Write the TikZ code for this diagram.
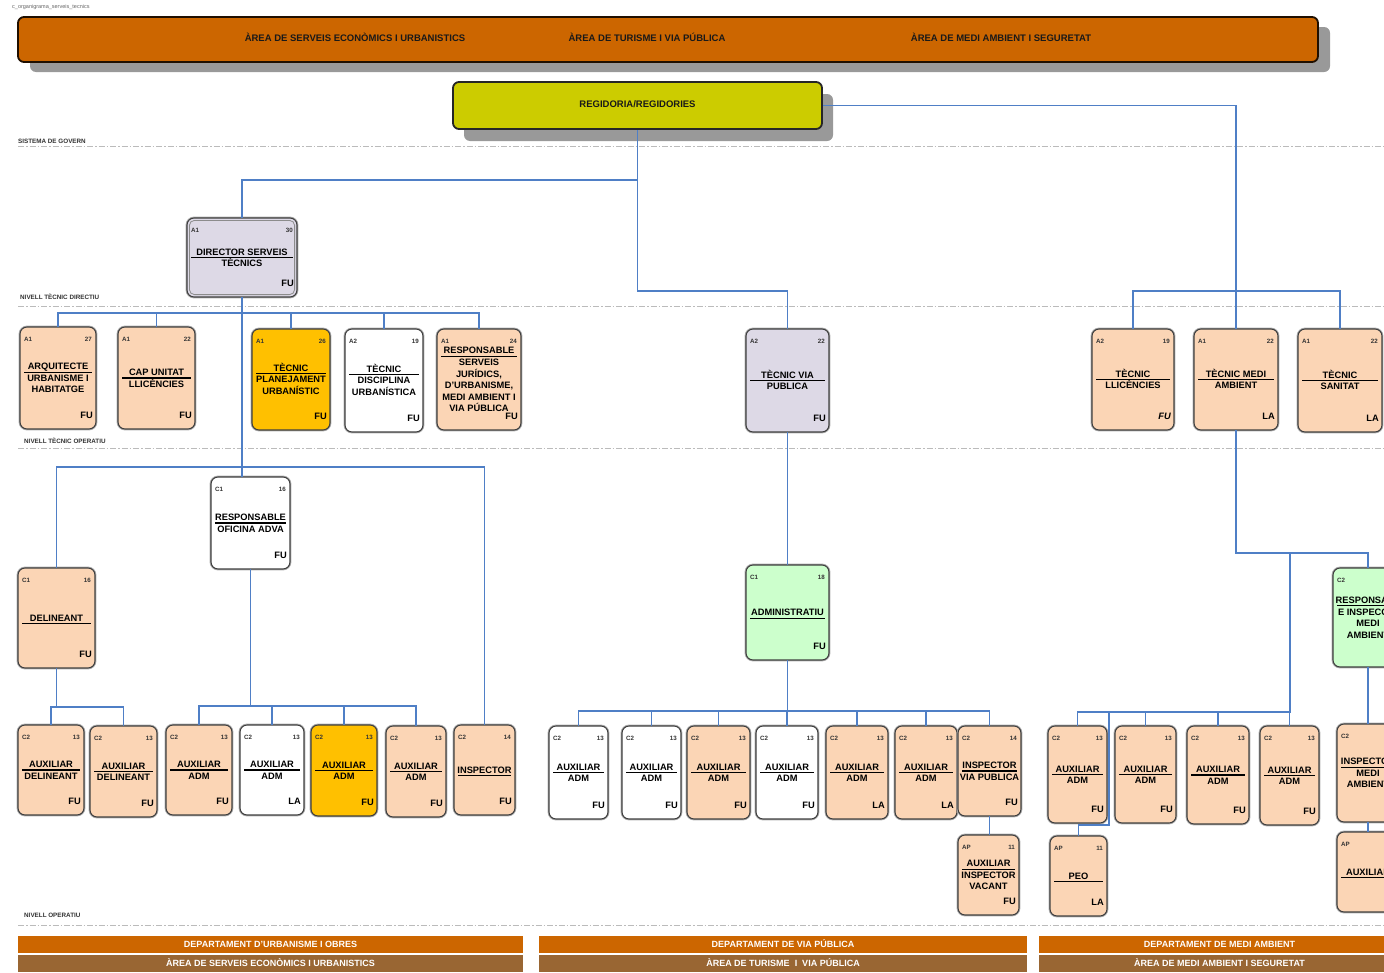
\documentclass[tikz,border=0pt]{standalone}
\usepackage{fontspec}
\setmainfont{Liberation Sans}
\usetikzlibrary{calc}
\definecolor{hdrorange}{HTML}{CC6600}
\definecolor{ftbrown}{HTML}{996633}
\definecolor{regy}{HTML}{CCCC00}
\definecolor{peach}{HTML}{FBD5B5}
\definecolor{amber}{HTML}{FFC000}
\definecolor{lav}{HTML}{DDD9E6}
\definecolor{mint}{HTML}{CCFFCC}
\definecolor{conn}{HTML}{4F7FC6}
\definecolor{shad}{HTML}{999999}
\definecolor{lvl}{HTML}{BBBBBB}
\tikzset{
  cardbox/.style={draw=black!75, line width=1.1pt, rounded corners=7pt, inner sep=0pt, outer sep=0pt,
    preaction={draw=black!30, line width=2.8pt}},
  gradef/.style={font=\fontsize{6.2}{7}\selectfont\bfseries, text=black!80, inner sep=0pt, text height=4.5pt, text depth=0pt},
  typef/.style={font=\fontsize{9.3}{11}\selectfont\bfseries, inner sep=0pt, text height=6.7pt, text depth=0pt},
  titlef/.style={font=\fontsize{9.3}{11}\selectfont\bfseries, inner sep=0pt, text height=6.7pt, text depth=0pt},
  rulest/.style={line width=1.1pt, black},
  connst/.style={draw=conn, line width=1.2pt},
  lvlline/.style={draw=lvl, line width=0.9pt, dash pattern=on 6pt off 2pt on 1.5pt off 2pt},
  lvltext/.style={font=\fontsize{6.3}{7}\selectfont\bfseries, text=black!80, anchor=west, inner sep=0pt, text height=4.6pt, text depth=0pt},
  hdrtext/.style={font=\fontsize{9.5}{11}\selectfont\bfseries, text=black!90, inner sep=0pt, text height=6.8pt, text depth=0pt},
  fttext/.style={font=\fontsize{9}{11}\selectfont\bfseries, text=white, inner sep=0pt, text height=6.5pt, text depth=0pt, minimum height=17pt, outer sep=0pt},
}
% card: name, x1, y1, x2, y2, fill, grade, number, type
\newcommand\card[9]{%
  \node[cardbox, fill=#6, minimum width={(#4)-(#2)}, minimum height={(#5)-(#3)}] (#1) at ({((#2)+(#4))/2},{((#3)+(#5))/2}) {};
  \node[gradef, anchor=west] (#1-g) at ($(#1.north west)+(4,12)$) {#7};
  \node[gradef, anchor=east] (#1-n) at ($(#1.north east)+(-4,12)$) {#8};
  \node[typef, anchor=east] (#1-t) at ($(#1.south east)+(-3,-14)$) {#9};
}
% title: name, number of lines, lines
\newcommand\ttl[3]{%
  \foreach \tline [count=\i] in {#3}{%
    \pgfmathsetmacro\yy{(\i-(#2+1)/2)*11.6}%
    \node[titlef] (#1-l\i) at ($(#1.center)+(0,\yy)$) {\tline};
  }%
  \pgfmathsetmacro\ry{(1-(#2+1)/2)*11.6+5.8}%
  \draw[rulest] ($(#1.west)+(4,\ry)$) -- ($(#1.east)+(-4,\ry)$);
}
\begin{document}
\begin{tikzpicture}[x=1pt, y=-1pt]
\useasboundingbox (0,0) rectangle (1384,972);
\clip (0,0) rectangle (1384,972);
\fill[white] (0,0) rectangle (1384,972);

\node[font=\fontsize{5.5}{6}\selectfont, text=black!60, anchor=west, inner sep=0pt] (doc) at (12,7) {c\_organigrama\_serveis\_tecnics};

% level lines
\draw[lvlline] (18,146) -- (1384,146);
\draw[lvlline] (18,306) -- (1384,306);
\draw[lvlline] (18,448) -- (1384,448);
\draw[lvlline] (18,925) -- (1384,925);
\node[lvltext] (lv1) at (18,141) {SISTEMA DE GOVERN};
\node[lvltext] (lv2) at (20,297) {NIVELL TÈCNIC DIRECTIU};
\node[lvltext] (lv3) at (24,441) {NIVELL TÈCNIC OPERATIU};
\node[lvltext] (lv4) at (24,915) {NIVELL OPERATIU};

% header
\fill[shad, rounded corners=6pt] (30,27) rectangle (1330,72);
\node[draw=black!85!hdrorange, line width=1.8pt, fill=hdrorange, rounded corners=6pt, minimum width=1300, minimum height=45, inner sep=0pt] (hdr) at (668,39.5) {};
\node[hdrtext] (h1) at (355,38.5) {ÀREA DE SERVEIS ECONÒMICS I URBANISTICS};
\node[hdrtext] (h2) at (647,38.5) {ÀREA DE TURISME I VIA PÚBLICA};
\node[hdrtext] (h3) at (1001,38.5) {ÀREA DE MEDI AMBIENT I SEGURETAT};

% regidoria
\fill[shad, rounded corners=6pt] (464,94) rectangle (833,141);
\node[draw=black!85, line width=1.8pt, fill=regy, rounded corners=6pt, minimum width=369, minimum height=47, inner sep=0pt] (reg) at (637.5,105.5) {};
\node[hdrtext] (regt) at (637.5,104.5) {REGIDORIA/REGIDORIES};

% director
\card{dir}{187}{218}{297}{297}{lav}{A1}{30}{FU}
\draw[black!45, line width=0.8pt, rounded corners=5pt] ($(dir.north west)+(2.4,2.4)$) rectangle ($(dir.south east)+(-2.4,-2.4)$);
\ttl{dir}{2}{DIRECTOR SERVEIS,TÈCNICS}

% technical tier, left
\card{arq}{20}{327}{96}{429}{peach}{A1}{27}{FU}
\ttl{arq}{3}{ARQUITECTE,URBANISME I,HABITATGE}
\card{cap}{118}{327}{195}{429}{peach}{A1}{22}{FU}
\ttl{cap}{2}{CAP UNITAT,LLICÈNCIES}
\card{pla}{252}{329}{330}{430}{amber}{A1}{26}{FU}
\ttl{pla}{3}{TÈCNIC,PLANEJAMENT,URBANÍSTIC}
\card{dis}{345}{329}{423}{432}{white}{A2}{19}{FU}
\ttl{dis}{3}{TÈCNIC,DISCIPLINA,URBANÍSTICA}
\card{rsj}{437}{329}{521}{430}{peach}{A1}{24}{FU}
\ttl{rsj}{6}{RESPONSABLE,SERVEIS,{JURÍDICS,},{D'URBANISME,},MEDI AMBIENT I,VIA PÚBLICA}

% technical tier, middle and right
\card{tvp}{746}{329}{829}{432}{lav}{A2}{22}{FU}
\ttl{tvp}{2}{TÈCNIC VIA,PUBLICA}
\card{tll}{1092}{329}{1174}{430}{peach}{A2}{19}{\itshape FU}
\ttl{tll}{2}{TÈCNIC,LLICÈNCIES}
\card{tma}{1194}{329}{1278}{430}{peach}{A1}{22}{LA}
\ttl{tma}{2}{TÈCNIC MEDI,AMBIENT}
\card{tsa}{1298}{329}{1382}{432}{peach}{A1}{22}{LA}
\ttl{tsa}{2}{TÈCNIC,SANITAT}

% operative tier, left
\card{ofi}{211}{477}{290}{569}{white}{C1}{16}{FU}
\ttl{ofi}{2}{RESPONSABLE,OFICINA ADVA}
\card{del}{18}{568}{95}{668}{peach}{C1}{16}{FU}
\ttl{del}{1}{DELINEANT}
\card{ad1}{18}{725}{84}{815}{peach}{C2}{13}{FU}
\ttl{ad1}{2}{AUXILIAR,DELINEANT}
\card{ad2}{90}{726}{157}{817}{peach}{C2}{13}{FU}
\ttl{ad2}{2}{AUXILIAR,DELINEANT}
\card{am1}{166}{725}{232}{815}{peach}{C2}{13}{FU}
\ttl{am1}{2}{AUXILIAR,ADM}
\card{am2}{240}{725}{304}{815}{white}{C2}{13}{LA}
\ttl{am2}{2}{AUXILIAR,ADM}
\card{am3}{311}{725}{377}{816}{amber}{C2}{13}{FU}
\ttl{am3}{2}{AUXILIAR,ADM}
\card{am4}{386}{726}{446}{817}{peach}{C2}{13}{FU}
\ttl{am4}{2}{AUXILIAR,ADM}
\card{ins}{454}{725}{515}{815}{peach}{C2}{14}{FU}
\ttl{ins}{1}{INSPECTOR}

% operative tier, middle
\card{adm}{746}{565}{829}{660}{mint}{C1}{18}{FU}
\ttl{adm}{1}{ADMINISTRATIU}
\card{m1}{549}{726}{608}{819}{white}{C2}{13}{FU}
\ttl{m1}{2}{AUXILIAR,ADM}
\card{m2}{622}{726}{681}{819}{white}{C2}{13}{FU}
\ttl{m2}{2}{AUXILIAR,ADM}
\card{m3}{687}{726}{750}{819}{peach}{C2}{13}{FU}
\ttl{m3}{2}{AUXILIAR,ADM}
\card{m4}{756}{726}{818}{819}{white}{C2}{13}{FU}
\ttl{m4}{2}{AUXILIAR,ADM}
\card{m5}{826}{726}{888}{819}{peach}{C2}{13}{LA}
\ttl{m5}{2}{AUXILIAR,ADM}
\card{m6}{895}{726}{957}{819}{peach}{C2}{13}{LA}
\ttl{m6}{2}{AUXILIAR,ADM}
\card{ivp}{958}{726}{1021}{816}{peach}{C2}{14}{FU}
\ttl{ivp}{2}{INSPECTOR,VIA PUBLICA}
\card{aiv}{958}{835}{1019}{915}{peach}{AP}{11}{FU}
\ttl{aiv}{3}{AUXILIAR,INSPECTOR,VACANT}

% operative tier, right
\card{r1}{1048}{726}{1107}{823}{peach}{C2}{13}{FU}
\ttl{r1}{2}{AUXILIAR,ADM}
\card{r2}{1115}{726}{1176}{823}{peach}{C2}{13}{FU}
\ttl{r2}{2}{AUXILIAR,ADM}
\card{r3}{1187}{726}{1249}{824}{peach}{C2}{13}{FU}
\ttl{r3}{2}{AUXILIAR,ADM}
\card{r4}{1260}{726}{1319}{825}{peach}{C2}{13}{FU}
\ttl{r4}{2}{AUXILIAR,ADM}
\card{peo}{1050}{836}{1107}{916}{peach}{AP}{11}{LA}
\ttl{peo}{1}{PEO}
\card{rma}{1333}{568}{1403}{667}{mint}{C2}{}{}
\ttl{rma}{4}{RESPONSABL,E INSPECCIÓ,MEDI,AMBIENT}
\card{ima}{1337}{724}{1399}{822}{peach}{C2}{}{}
\ttl{ima}{3}{INSPECTOR,MEDI,AMBIENT}
\card{axm}{1337}{832}{1399}{912}{peach}{AP}{}{}
\ttl{axm}{1}{AUXILIAR}

% bus coordinates
\coordinate (bA) at (0,180);
\coordinate (bB) at (0,291);
\coordinate (bC) at (0,313);
\coordinate (bD) at (0,467);
\coordinate (bE) at (0,707);
\coordinate (bF) at (0,706);
\coordinate (bG) at (0,711);
\coordinate (bH) at (0,553);
\coordinate (bI) at (0,712);
\coordinate (bP) at (0,825);
\coordinate (jR) at (1290,553);
\coordinate (jP) at (1109,712);

% connectors
\draw[connst] (dir.north) -- (dir.north |- bA) -| (reg.south);
\draw[connst] (tvp.north) -- (tvp.north |- bB) -| (reg.south);
\draw[connst] (reg.east) -| (tma.north);
\draw[connst] (tll.north) -- (tll.north |- bB) -| (tma.north);
\draw[connst] (tsa.north) -- (tsa.north |- bB) -| (tma.north);
\foreach \c in {arq,cap,pla,dis,rsj}
  \draw[connst] (\c.north) -- (\c.north |- bC) -| (dir.south);
\draw[connst] (dir.south) -- (dir.south |- ofi.north);
\draw[connst] (del.north) -- (del.north |- bD) -| (dir.south);
\draw[connst] (ins.north) -- (ins.north |- bD) -| (dir.south);
\foreach \c in {ad1,ad2}
  \draw[connst] (\c.north) -- (\c.north |- bE) -| (del.south);
\foreach \c in {am1,am2,am3,am4}
  \draw[connst] (\c.north) -- (\c.north |- bF) -| (ofi.south);
\draw[connst] (tvp.south) -- (adm.north);
\foreach \c in {m1,m2,m3,m4,m5,m6,ivp}
  \draw[connst] (\c.north) -- (\c.north |- bG) -| (adm.south);
\draw[connst] (ivp.south) -- (ivp.south |- aiv.north);
\draw[connst] (rma.north) -- (rma.north |- bH) -| (tma.south);
\foreach \c in {r1,r2,r3,r4}
  \draw[connst] (\c.north) -- (\c.north |- bI) -| (jR);
\draw[connst] (peo.north) -- (peo.north |- bP) -| (jP);
\draw[connst] (rma.south) -- (rma.south |- ima.north);
\draw[connst] (ima.south) -- (axm.north);

% footer
\node[fttext, fill=hdrorange, minimum width=505] (f1a) at (270.5,944.5) {DEPARTAMENT D'URBANISME I OBRES};
\node[fttext, fill=ftbrown, minimum width=505] (f1b) at (270.5,963.5) {ÀREA DE SERVEIS ECONÒMICS I URBANISTICS};
\node[fttext, fill=hdrorange, minimum width=488] (f2a) at (783,944.5) {DEPARTAMENT DE VIA PÚBLICA};
\node[fttext, fill=ftbrown, minimum width=488] (f2b) at (783,963.5) {ÀREA DE TURISME \ I \ VIA PÚBLICA};
\node[fttext, fill=hdrorange, minimum width=361] (f3a) at (1219.5,944.5) {DEPARTAMENT DE MEDI AMBIENT};
\node[fttext, fill=ftbrown, minimum width=361] (f3b) at (1219.5,963.5) {ÀREA DE MEDI AMBIENT I SEGURETAT};
\end{tikzpicture}
\end{document}
